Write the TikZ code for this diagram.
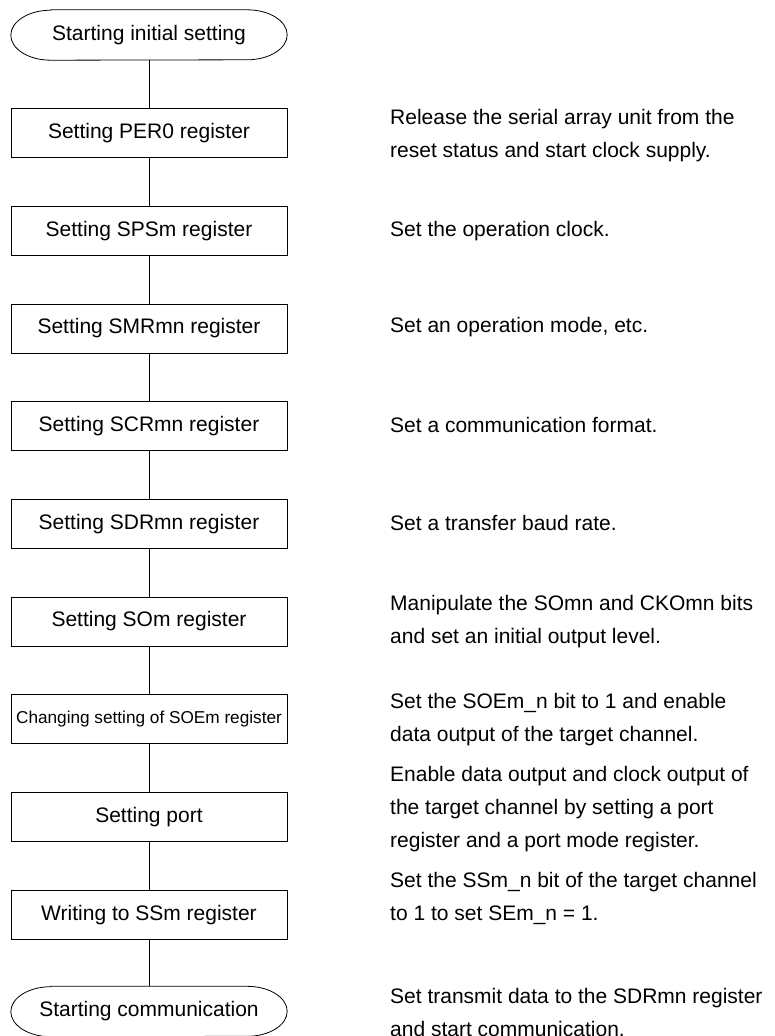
\documentclass[tikz,border=0pt]{standalone}
\usepackage{fontspec}
\setmainfont{Liberation Sans}
\begin{document}
\begin{tikzpicture}[x=1pt,y=-1pt,
  box/.style={draw,line width=0.8pt,minimum width=276pt,minimum height=49pt,inner sep=0pt,font=\fontsize{21}{25}\selectfont},
  term/.style={minimum width=276pt,minimum height=50pt,inner sep=0pt,font=\fontsize{21}{25}\selectfont},
  note/.style={anchor=west,align=left,inner sep=0pt,font=\fontsize{21}{33}\selectfont},
  link/.style={line width=0.8pt}]
\useasboundingbox (0,0) rectangle (774,1036);
\node[term] (t0) at (149,35) {Starting initial setting};
\node[box] (b1) at (149,133.0) {Setting PER0 register};
\node[box] (b2) at (149,230.7) {Setting SPSm register};
\node[box] (b3) at (149,328.4) {Setting SMRmn register};
\node[box] (b4) at (149,426.1) {Setting SCRmn register};
\node[box] (b5) at (149,523.8) {Setting SDRmn register};
\node[box] (b6) at (149,621.5) {Setting SOm register};
\node[box,font=\fontsize{17.2}{20}\selectfont] (b7) at (149,719.2) {Changing setting of SOEm register};
\node[box] (b8) at (149,816.9) {Setting port};
\node[box] (b9) at (149,914.6) {Writing to SSm register};
\node[term] (t1) at (149,1011.5) {Starting communication};
\foreach \n in {t0,t1}{
  \draw[link] ([xshift=40pt]\n.north west) -- ([xshift=-40pt]\n.north east)
    arc[start angle=90,end angle=-90,x radius=40pt,y radius=25pt]
    -- ([xshift=40pt]\n.south west)
    arc[start angle=270,end angle=90,x radius=40pt,y radius=25pt] -- cycle;
}
\draw[link] (t0) -- (b1);
\draw[link] (b1) -- (b2);
\draw[link] (b2) -- (b3);
\draw[link] (b3) -- (b4);
\draw[link] (b4) -- (b5);
\draw[link] (b5) -- (b6);
\draw[link] (b6) -- (b7);
\draw[link] (b7) -- (b8);
\draw[link] (b8) -- (b9);
\draw[link] (b9) -- (t1);
\node[note] (n1) at (390,136) {Release the serial array unit from the\\reset status and start clock supply.};
\node[note] (n2) at (390,231) {Set the operation clock.};
\node[note] (n3) at (390,327) {Set an operation mode, etc.};
\node[note] (n4) at (390,425) {Set a communication format.};
\node[note] (n5) at (390,523) {Set a transfer baud rate.};
\node[note] (n6) at (390,622) {Manipulate the SOmn and CKOmn bits\\and set an initial output level.};
\node[note] (n7) at (390,720) {Set the SOEm\_n bit to 1 and enable\\data output of the target channel.};
\node[note] (n8) at (390,809) {Enable data output and clock output of\\the target channel by setting a port\\register and a port mode register.};
\node[note] (n9) at (390,898) {Set the SSm\_n bit of the target channel\\to 1 to set SEm\_n = 1.};
\node[note] (n10) at (390,1012) {Set transmit data to the SDRmn register\\and start communication.};
\end{tikzpicture}
\end{document}
